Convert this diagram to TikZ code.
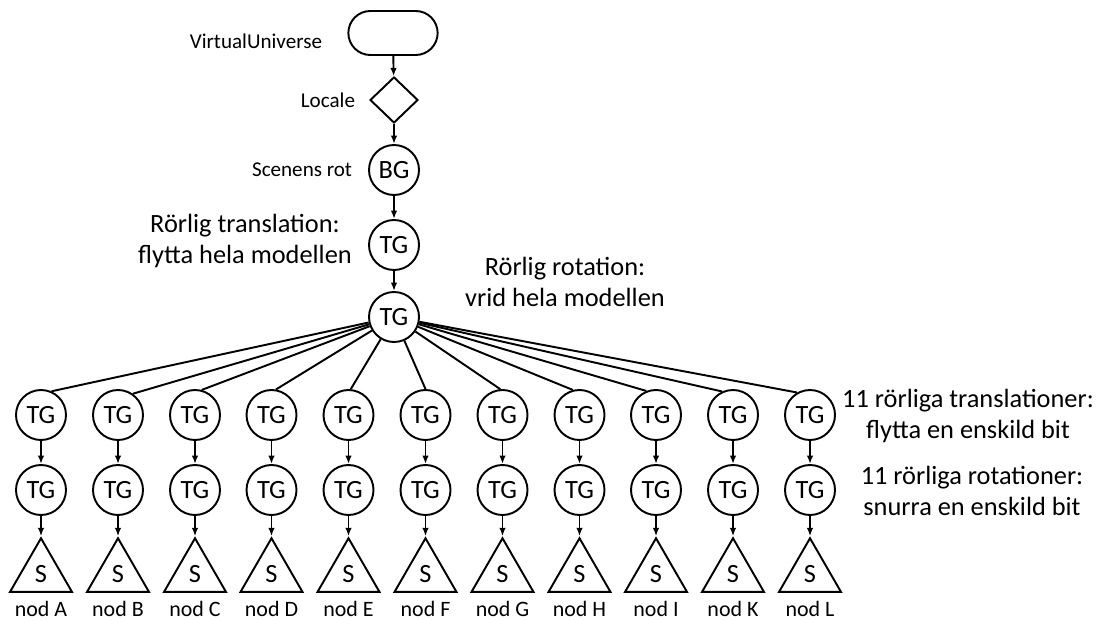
\documentclass[tikz,border=0pt]{standalone}
\usepackage{fontspec}
\setmainfont{Carlito}
\usetikzlibrary{arrows.meta,shapes.geometric,shapes.misc}

\begin{document}
\begin{tikzpicture}[
    line width=1.1pt, >={Latex[length=1.7mm,width=1.3mm]},
    grp/.style={circle, draw, minimum size=1cm, inner sep=0pt, font=\fontsize{15}{16}\selectfont},
    leaf/.style={regular polygon, regular polygon sides=3, draw, minimum size=1.43cm, inner sep=0pt,
        font=\fontsize{15}{16}\selectfont, label={[font=\fontsize{12.5}{15}\selectfont, inner sep=0pt, label distance=4pt]below:#1}},
    note/.style={align=center, font=\fontsize{15}{17.5}\selectfont},
    small/.style={inner sep=0pt, font=\fontsize{12}{14}\selectfont}]
    \useasboundingbox (0,0) rectangle (21.92,12.38);

    \node[rounded rectangle,draw,minimum width=2.02cm,minimum height=0.88cm] (vu) at (7.86,11.72) {};
    \node[diamond,draw,minimum width=0.96cm,minimum height=0.92cm,inner sep=0pt] (loc) at (7.88,10.38) {};
    \node[grp] (bg) at (7.88,8.98) {BG};
    \node[grp] (tg0) at (7.88,7.48) {TG};
    \node[grp] (tg1) at (7.88,6.04) {TG};

    \node[small,anchor=east] (lvu) at (6.46,11.56) {VirtualUniverse};
    \node[small,anchor=east] (lloc) at (7.12,10.38) {Locale};
    \node[small,anchor=east] (lbg) at (7.06,8.98) {Scenens rot};
    \node[note] (ltg0) at (4.90,7.56) {Rörlig translation:\\flytta hela modellen};
    \node[note] (ltg1) at (11.30,6.74) {Rörlig rotation:\\vrid hela modellen};

    % first row: translations
    \node[grp] (t1) at (0.82,4.08) {TG};
    \node[grp] (t2) at (2.36,4.08) {TG};
    \node[grp] (t3) at (3.90,4.08) {TG};
    \node[grp] (t4) at (5.43,4.08) {TG};
    \node[grp] (t5) at (6.97,4.08) {TG};
    \node[grp] (t6) at (8.51,4.08) {TG};
    \node[grp] (t7) at (10.05,4.08) {TG};
    \node[grp] (t8) at (11.59,4.08) {TG};
    \node[grp] (t9) at (13.12,4.08) {TG};
    \node[grp] (t10) at (14.66,4.08) {TG};
    \node[grp] (t11) at (16.20,4.08) {TG};

    % second row: rotations
    \node[grp] (r1) at (0.82,2.58) {TG};
    \node[grp] (r2) at (2.36,2.58) {TG};
    \node[grp] (r3) at (3.90,2.58) {TG};
    \node[grp] (r4) at (5.43,2.58) {TG};
    \node[grp] (r5) at (6.97,2.58) {TG};
    \node[grp] (r6) at (8.51,2.58) {TG};
    \node[grp] (r7) at (10.05,2.58) {TG};
    \node[grp] (r8) at (11.59,2.58) {TG};
    \node[grp] (r9) at (13.12,2.58) {TG};
    \node[grp] (r10) at (14.66,2.58) {TG};
    \node[grp] (r11) at (16.20,2.58) {TG};

    % shapes
    \node[leaf=nod A] (s1) at (0.82,0.90) {S};
    \node[leaf=nod B] (s2) at (2.36,0.90) {S};
    \node[leaf=nod C] (s3) at (3.90,0.90) {S};
    \node[leaf=nod D] (s4) at (5.43,0.90) {S};
    \node[leaf=nod E] (s5) at (6.97,0.90) {S};
    \node[leaf=nod F] (s6) at (8.51,0.90) {S};
    \node[leaf=nod G] (s7) at (10.05,0.90) {S};
    \node[leaf=nod H] (s8) at (11.59,0.90) {S};
    \node[leaf=nod I] (s9) at (13.12,0.90) {S};
    \node[leaf=nod K] (s10) at (14.66,0.90) {S};
    \node[leaf=nod L] (s11) at (16.20,0.90) {S};

    \node[note] (lt) at (19.36,4.06) {11 rörliga translationer:\\flytta en enskild bit};
    \node[note] (lr) at (19.44,2.56) {11 rörliga rotationer:\\snurra en enskild bit};

    \path[->] (vu) edge (loc);
    \path[->] (loc) edge (bg);
    \path[->] (bg) edge (tg0);
    \path[->] (tg0) edge (tg1);

    \path[-] (tg1) edge (t1.66);
    \path[-] (tg1) edge (t2.55);
    \path[-] (tg1) edge (t3.75);
    \path[-] (tg1) edge (t4.80);
    \path[-] (tg1) edge (t5.85);
    \path[-] (tg1) edge (t6.north);
    \path[-] (tg1) edge (t7.95);
    \path[-] (tg1) edge (t8.105);
    \path[-] (tg1) edge (t9.112);
    \path[-] (tg1) edge (t10.115);
    \path[-] (tg1) edge (t11.120);

    \path[->] (t1) edge (r1);
    \path[->] (t2) edge (r2);
    \path[->] (t3) edge (r3);
    \path[->] (t4) edge (r4);
    \path[->] (t5) edge (r5);
    \path[->] (t6) edge (r6);
    \path[->] (t7) edge (r7);
    \path[->] (t8) edge (r8);
    \path[->] (t9) edge (r9);
    \path[->] (t10) edge (r10);
    \path[->] (t11) edge (r11);

    \path[->] (r1) edge (s1.corner 1);
    \path[->] (r2) edge (s2.corner 1);
    \path[->] (r3) edge (s3.corner 1);
    \path[->] (r4) edge (s4.corner 1);
    \path[->] (r5) edge (s5.corner 1);
    \path[->] (r6) edge (s6.corner 1);
    \path[->] (r7) edge (s7.corner 1);
    \path[->] (r8) edge (s8.corner 1);
    \path[->] (r9) edge (s9.corner 1);
    \path[->] (r10) edge (s10.corner 1);
    \path[->] (r11) edge (s11.corner 1);
\end{tikzpicture}
\end{document}
